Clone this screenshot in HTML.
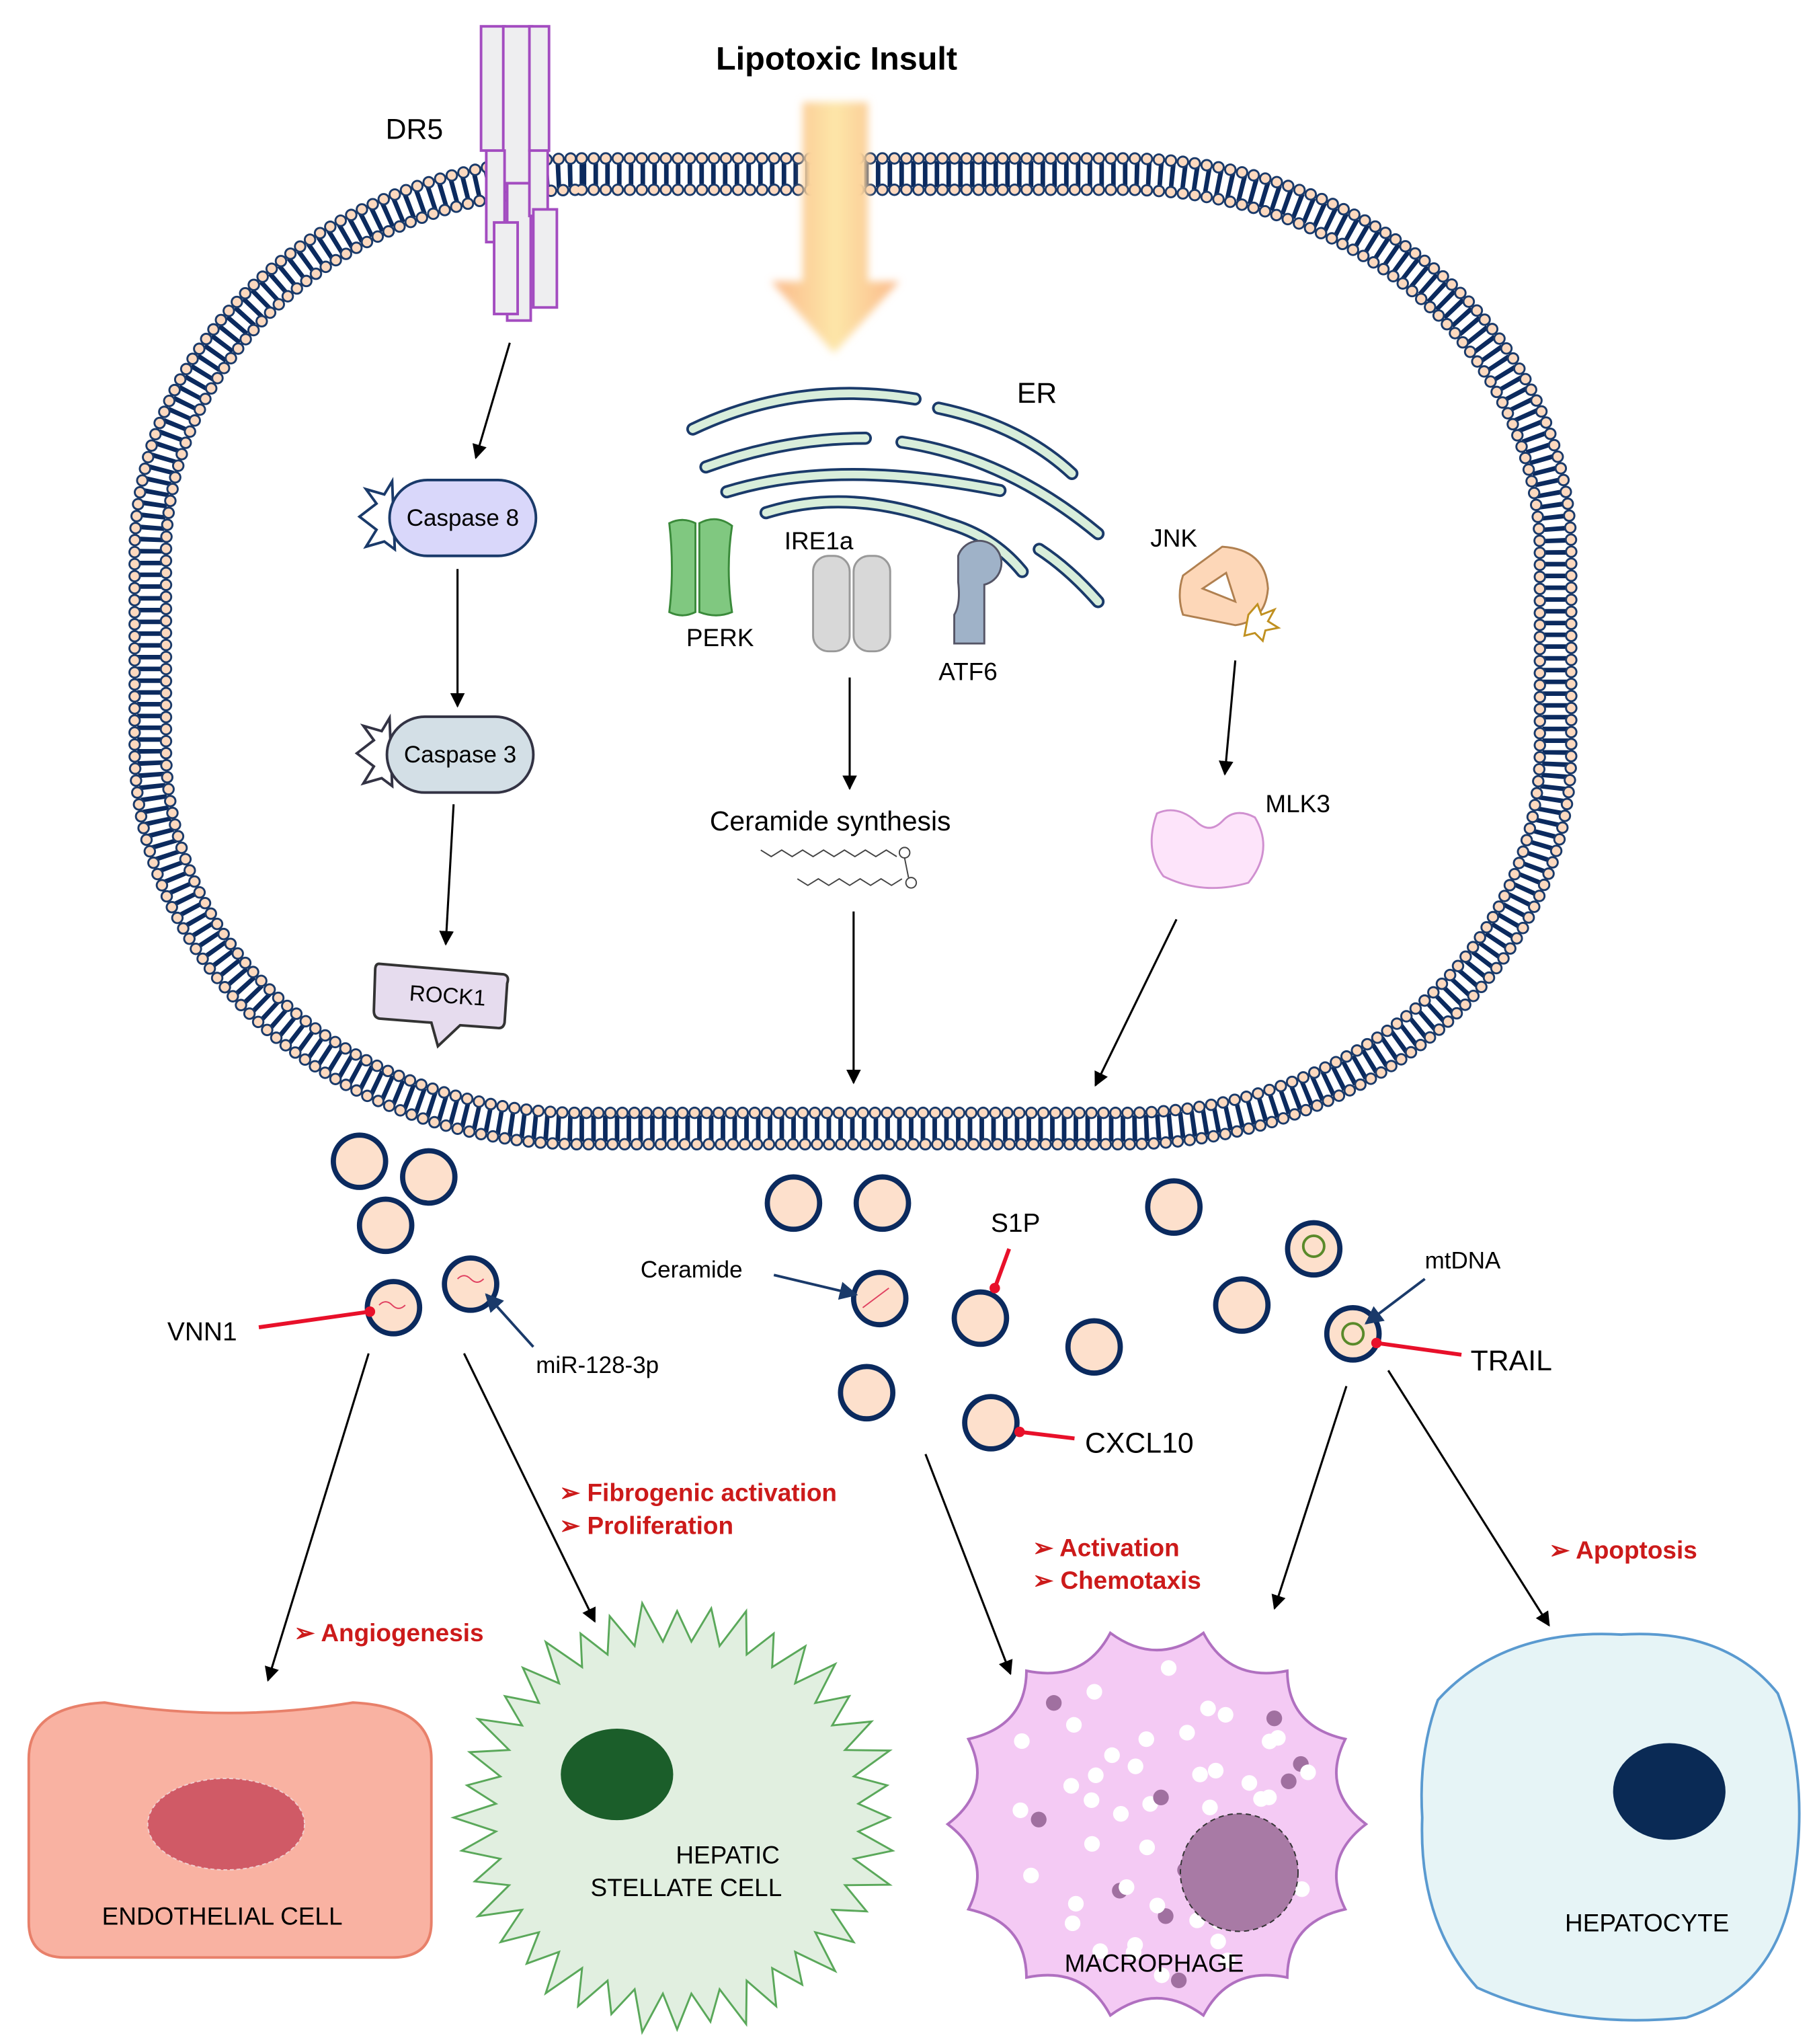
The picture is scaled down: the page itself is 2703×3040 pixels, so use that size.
<!DOCTYPE html>
<html><head><meta charset="utf-8"><style>
html,body{margin:0;padding:0;background:#fff}
svg{display:block}
text{font-family:"Liberation Sans",Arial,sans-serif}
.r{fill:#cc1a1a;font-weight:bold;font-size:19px}
</style></head><body>
<svg id="s" width="2703" height="3040" viewBox="0 0 1390 1563" xmlns="http://www.w3.org/2000/svg">
<defs>
<marker id="a" viewBox="0 0 10 10" refX="9" refY="5" markerWidth="7" markerHeight="7" orient="auto"><path d="M0,0L10,5L0,10z" fill="#000"/></marker>
<marker id="b" viewBox="0 0 10 10" refX="9" refY="5" markerWidth="7" markerHeight="7" orient="auto"><path d="M0,0L10,5L0,10z" fill="#1a3a6a"/></marker>
<linearGradient id="og" x1="0" x2="1"><stop offset="0" stop-color="#fbb98a"/><stop offset=".5" stop-color="#fde6a8"/><stop offset="1" stop-color="#fbb98a"/></linearGradient>
<filter id="bl"><feGaussianBlur stdDeviation="3"/></filter>
</defs>
<!-- membrane -->
<rect x="115" y="133" width="1075" height="730" rx="330" ry="290" fill="none" stroke="#0b2a5e" stroke-width="20" stroke-dasharray="3.5 5.5"/>
<rect x="103" y="121" width="1099" height="754" rx="342" ry="302" fill="none" stroke="#1a3a6a" stroke-width="9.5" stroke-linecap="round" stroke-dasharray="0 9.2"/>
<rect x="103" y="121" width="1099" height="754" rx="342" ry="302" fill="none" stroke="#fcd9bf" stroke-width="6.5" stroke-linecap="round" stroke-dasharray="0 9.2"/>
<rect x="127" y="145" width="1051" height="706" rx="318" ry="278" fill="none" stroke="#1a3a6a" stroke-width="9.5" stroke-linecap="round" stroke-dasharray="0 9.2"/>
<rect x="127" y="145" width="1051" height="706" rx="318" ry="278" fill="none" stroke="#fcd9bf" stroke-width="6.5" stroke-linecap="round" stroke-dasharray="0 9.2"/>
<!-- DR5 -->
<g fill="#eeeef0" stroke="#a34cc0" stroke-width="2">
<rect x="368" y="20" width="18" height="95"/><rect x="385" y="20" width="22" height="120"/><rect x="405" y="20" width="15" height="95"/>
<rect x="372" y="115" width="14" height="70"/><rect x="388" y="140" width="18" height="105"/><rect x="405" y="115" width="14" height="50"/>
<rect x="378" y="170" width="18" height="70"/><rect x="408" y="160" width="18" height="75"/>
</g>
<text x="295" y="106" font-size="22">DR5</text>
<text x="640" y="53" font-size="25" font-weight="bold" text-anchor="middle">Lipotoxic Insult</text>
<!-- orange arrow -->
<g filter="url(#bl)"><path d="M614,78H664V215H688L638,270L590,215H614Z" fill="url(#og)"/></g>
<!-- ER -->
<g fill="none" stroke-linecap="round">
<g stroke="#1a3a6a" stroke-width="10">
<path d="M530,328Q610,290 700,305"/><path d="M718,312Q780,325 820,362"/>
<path d="M540,357Q600,335 662,335"/><path d="M690,338Q770,350 840,408"/>
<path d="M556,376Q640,350 765,375"/><path d="M586,392Q650,372 725,400Q760,410 782,437"/><path d="M795,420Q818,435 840,460"/>
</g>
<g stroke="#d8eedb" stroke-width="6">
<path d="M530,328Q610,290 700,305"/><path d="M718,312Q780,325 820,362"/>
<path d="M540,357Q600,335 662,335"/><path d="M690,338Q770,350 840,408"/>
<path d="M556,376Q640,350 765,375"/><path d="M586,392Q650,372 725,400Q760,410 782,437"/><path d="M795,420Q818,435 840,460"/>
</g>
</g>
<text x="778" y="308" font-size="22">ER</text>
<!-- PERK IRE1a ATF6 -->
<g fill="#80c880" stroke="#3a8a3a" stroke-width="1.5">
<path d="M512,400Q522,395 532,400L532,468Q522,473 512,468Q516,435 512,400Z"/>
<path d="M535,400Q548,393 560,402Q555,435 560,468Q548,473 535,468Z"/>
</g>
<text x="525" y="494" font-size="19">PERK</text>
<text x="600" y="420" font-size="19">IRE1a</text>
<g fill="#d8d8d8" stroke="#999" stroke-width="1.5">
<rect x="622" y="425" width="28" height="73" rx="12"/><rect x="653" y="425" width="28" height="73" rx="12"/>
</g>
<path d="M733,425a17,17 0 1 1 20,22V492H730V470Q735,462 733,445Z" fill="#9fb2c8" stroke="#556" stroke-width="1.5"/>
<text x="718" y="520" font-size="19">ATF6</text>
<!-- Caspases -->
<polygon points="275,395 288,385 280,374 294,378 300,368 302,420 294,414 280,418 288,405" fill="#fff" stroke="#1a3a6a" stroke-width="2"/>
<rect x="298" y="367" width="112" height="58" rx="29" fill="#d9d7fa" stroke="#1a3a6a" stroke-width="2"/>
<text x="354" y="402" font-size="18" text-anchor="middle">Caspase 8</text>
<polygon points="273,576 286,566 278,555 292,559 298,549 300,601 292,595 278,599 286,586" fill="#fff" stroke="#334" stroke-width="2"/>
<rect x="296" y="548" width="112" height="58" rx="29" fill="#d3dfe6" stroke="#334" stroke-width="2"/>
<text x="352" y="583" font-size="18" text-anchor="middle">Caspase 3</text>
<path d="M290,737L385,745Q390,746 388,752L386,782Q385,787 380,786L352,784L335,800L330,782L292,779Q286,779 286,773L287,742Q287,737 290,737Z" fill="#e6dcee" stroke="#333" stroke-width="2"/>
<text x="342" y="767" font-size="17" text-anchor="middle" transform="rotate(4 342 767)">ROCK1</text>
<!-- arrows in cell -->
<g stroke="#000" stroke-width="1.6" marker-end="url(#a)">
<line x1="390" y1="262" x2="364" y2="350"/><line x1="350" y1="435" x2="350" y2="540"/><line x1="347" y1="615" x2="341" y2="722"/>
<line x1="650" y1="518" x2="650" y2="603"/><line x1="653" y1="697" x2="653" y2="828"/>
<line x1="945" y1="505" x2="937" y2="592"/><line x1="900" y1="703" x2="838" y2="830"/>
</g>
<text x="543" y="635" font-size="21">Ceramide synthesis</text>
<g fill="none" stroke="#444" stroke-width="1">
<path d="M582,650l8,5l8,-5l8,5l8,-5l8,5l8,-5l8,5l8,-5l8,5l8,-5l8,5l8,-5l8,5"/>
<path d="M610,672l8,5l8,-5l8,5l8,-5l8,5l8,-5l8,5l8,-5l8,5l8,-5"/>
<circle cx="692" cy="652" r="4"/><circle cx="697" cy="675" r="4"/><path d="M692,656L695,671"/>
</g>
<!-- JNK MLK3 -->
<text x="880" y="418" font-size="19">JNK</text>
<path d="M905,440L935,418Q968,420 970,450Q968,475 945,478L905,470Q900,455 905,440ZM920,450L938,438L945,460Z" fill="#fdd7b8" stroke="#b08050" stroke-width="1.5" fill-rule="evenodd"/>
<polygon points="955,470 962,462 965,470 975,466 970,475 978,480 968,482 966,490 960,484 952,486" fill="#fff" stroke="#c09020" stroke-width="1.5"/>
<path d="M885,622Q900,615 915,628Q925,638 935,628Q945,617 960,625Q975,650 955,675Q920,685 890,670Q875,650 885,622Z" fill="#fde4fa" stroke="#d090d0" stroke-width="1.5"/>
<text x="968" y="621" font-size="19">MLK3</text>
<!-- vesicles -->
<g id="ves" fill="#fde0cc" stroke="#0b2a5e" stroke-width="4"></g>
<g fill="none" stroke="#e04060" stroke-width="1"><path d="M290,998q5,-5 10,0t10,0"/><path d="M350,978q5,-5 10,0t10,0"/><path d="M660,1000l20,-15"/></g>
<g fill="none" stroke="#5a8a2a" stroke-width="2"><circle cx="1005" cy="953" r="8"/><circle cx="1035" cy="1020" r="8"/></g>
<!-- labels -->
<text x="128" y="1025" font-size="20">VNN1</text>
<text x="410" y="1050" font-size="18">miR-128-3p</text>
<text x="490" y="977" font-size="18">Ceramide</text>
<text x="758" y="942" font-size="20">S1P</text>
<text x="1090" y="970" font-size="18">mtDNA</text>
<text x="1125" y="1048" font-size="22">TRAIL</text>
<text x="830" y="1111" font-size="22">CXCL10</text>
<g stroke="#e8102a" stroke-width="3"><line x1="198" y1="1015" x2="283" y2="1003"/><line x1="772" y1="955" x2="761" y2="985"/><line x1="1118" y1="1036" x2="1053" y2="1027"/><line x1="822" y1="1100" x2="780" y2="1095"/></g>
<g fill="#e8102a"><circle cx="283" cy="1003" r="4"/><circle cx="761" cy="985" r="4"/><circle cx="1053" cy="1027" r="4"/><circle cx="780" cy="1095" r="4"/></g>
<g stroke="#1a3a6a" stroke-width="2" marker-end="url(#b)"><line x1="408" y1="1030" x2="372" y2="990"/><line x1="592" y1="975" x2="655" y2="990"/><line x1="1090" y1="978" x2="1045" y2="1012"/></g>
<g stroke="#000" stroke-width="1.6" marker-end="url(#a)">
<line x1="282" y1="1035" x2="205" y2="1285"/><line x1="355" y1="1035" x2="455" y2="1240"/><line x1="708" y1="1112" x2="773" y2="1280"/><line x1="1030" y1="1060" x2="975" y2="1230"/><line x1="1062" y1="1048" x2="1185" y2="1243"/>
</g>
<text class="r" x="428" y="1148">➢ Fibrogenic activation</text>
<text class="r" x="428" y="1173">➢ Proliferation</text>
<text class="r" x="225" y="1255">➢ Angiogenesis</text>
<text class="r" x="790" y="1190">➢ Activation</text>
<text class="r" x="790" y="1215">➢ Chemotaxis</text>
<text class="r" x="1185" y="1192">➢ Apoptosis</text>
<!-- endothelial -->
<path d="M22,1345Q22,1305 80,1302Q175,1318 270,1302Q330,1305 330,1345V1470Q330,1497 300,1497H50Q22,1497 22,1470Z" fill="#f9b2a2" stroke="#e8806a" stroke-width="2"/>
<ellipse cx="173" cy="1395" rx="60" ry="35" fill="#d05a66" stroke="#f0d0d0" stroke-dasharray="3 2"/>
<text x="170" y="1472" font-size="19" text-anchor="middle">ENDOTHELIAL CELL</text>
<polygon id="hsc" fill="#e1efe0" stroke="#5aa85a" stroke-width="1.5"/>
<ellipse cx="472" cy="1357" rx="43" ry="35" fill="#1b5e2a"/>
<text x="517" y="1425" font-size="19">HEPATIC</text>
<text x="525" y="1450" font-size="19" text-anchor="middle">STELLATE CELL</text>
<path id="mac" fill="#f4caf4" stroke="#b070c0" stroke-width="2"/>
<g id="dots"></g>
<circle cx="948" cy="1432" r="45" fill="#a87aa5" stroke="#333" stroke-dasharray="4 3"/>
<text x="883" y="1508" font-size="19" text-anchor="middle">MACROPHAGE</text>
<path d="M1100,1300Q1150,1245 1240,1250Q1320,1245 1360,1295Q1385,1360 1372,1440Q1360,1520 1290,1543Q1200,1552 1130,1520Q1085,1470 1088,1390Q1085,1340 1100,1300Z" fill="#e6f4f6" stroke="#5a9ad0" stroke-width="2"/>
<ellipse cx="1277" cy="1370" rx="43" ry="37" fill="#0a2a55"/>
<text x="1260" y="1477" font-size="19" text-anchor="middle">HEPATOCYTE</text>
</svg>
<script>
var ns="http://www.w3.org/2000/svg";
var v=[[275,888],[328,900],[295,937],[301,1000],[360,982],[607,920],[675,920],[673,993],[750,1008],[837,1030],[663,1065],[758,1088],[898,923],[1005,955],[950,998],[1035,1020]];
var g=document.getElementById("ves");
v.forEach(function(p){var c=document.createElementNS(ns,"circle");c.setAttribute("cx",p[0]);c.setAttribute("cy",p[1]);c.setAttribute("r",20);g.appendChild(c);});
var pts=[],n=40,cx=518,cy=1390;
for(var i=0;i<n*2;i++){var a=i*Math.PI/n;var r=(i%2==0)?(158+(i%6)*2):135;pts.push((cx+r*1.03*Math.cos(a)).toFixed(1)+","+(cy+r*Math.sin(a)).toFixed(1));}
document.getElementById("hsc").setAttribute("points",pts.join(" "));
var d="",m=14,mx=885,my=1395;
for(var i=0;i<=m;i++){var a=i*2*Math.PI/m;var x=mx+160*Math.cos(a),y=my+150*Math.sin(a);
if(i==0)d="M"+x+","+y;else{var a2=(i-0.5)*2*Math.PI/m;d+=" Q"+(mx+128*Math.cos(a2))+","+(my+120*Math.sin(a2))+" "+x+","+y;}}
document.getElementById("mac").setAttribute("d",d+"Z");
var dg=document.getElementById("dots");var seed=3;function rnd(){seed=(seed*9301+49297)%233280;return seed/233280;}
for(var k=0;k<55;k++){var a=rnd()*6.283,r=Math.sqrt(rnd())*125;var c=document.createElementNS(ns,"circle");
c.setAttribute("cx",mx+r*Math.cos(a));c.setAttribute("cy",my+r*Math.sin(a));c.setAttribute("r",6);c.setAttribute("fill",k%5==0?"#a070a0":"#fff");dg.appendChild(c);}
</script>
</body></html>
